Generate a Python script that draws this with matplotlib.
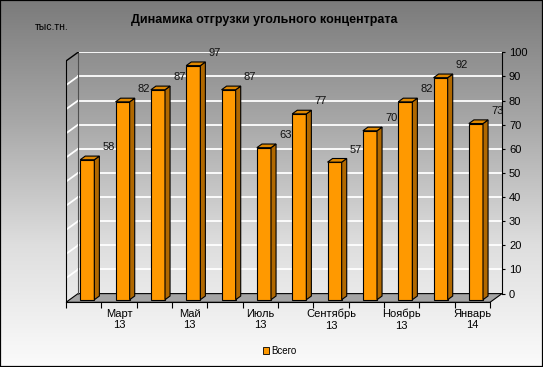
import numpy as np
import matplotlib
matplotlib.use("Agg")
import matplotlib.pyplot as plt
from matplotlib.patches import Polygon, Patch, Rectangle
from matplotlib.colors import LinearSegmentedColormap

# --- data ---
months = ['Февраль', 'Март', 'Апрель', 'Май', 'Июнь', 'Июль',
          'Август', 'Сентябрь', 'Октябрь', 'Ноябрь', 'Декабрь', 'Январь']
years = ['13'] * 11 + ['14']
values = [58, 82, 87, 97, 87, 63, 77, 57, 70, 82, 92, 73]
labelled = [1, 3, 5, 7, 9, 11]          # only every other month gets a tick label
y_ticks = list(range(0, 101, 10))

plt.rcParams['font.family'] = ['Liberation Sans', 'DejaVu Sans']

W_PX, H_PX = 543, 367
n = len(values)

# pseudo-3D geometry (depth offset expressed in data units)
DX = 0.34      # category units for full depth
DY = 3.6       # value units for full depth
F = 0.3        # depth of bar front face
SD = 0.42      # bar depth
BW = 0.40      # bar width
PX_CAT = 424 / 12
PX_VAL = 2.413

fig = plt.figure(figsize=(W_PX / 100, H_PX / 100), dpi=100)

# gradient background
bg = fig.add_axes([0, 0, 1, 1], zorder=-5)
cmap = LinearSegmentedColormap.from_list('bg', ['#7b7b7b', '#a8a8a8', '#dedede', '#fbfbfb'])
bg.imshow(np.linspace(0, 1, 256)[:, None], aspect='auto', cmap=cmap,
          extent=[0, 1, 0, 1])
bg.axis('off')

left_px, front_y_px = 66, 302.3
width_px = (n + DX) * PX_CAT
height_px = (100 + DY) * PX_VAL
ax = fig.add_axes([left_px / W_PX, 1 - front_y_px / H_PX,
                   width_px / W_PX, height_px / H_PX])
ax.patch.set_visible(False)
ax.set_xlim(-0.5, n - 0.5 + DX)
ax.set_ylim(0, 100 + DY)

# floor
floor = Polygon([(-0.5, 0), (n - 0.5, 0), (n - 0.5 + DX, DY), (-0.5 + DX, DY)],
                closed=True, fc='#a4a4a4', ec='black', lw=0.8, zorder=1)
ax.add_patch(floor)

# gridlines on back wall and left wall
for v in y_ticks[1:]:
    ax.plot([-0.5 + DX, n - 0.5 + DX], [v + DY, v + DY], color='white', lw=1.3, zorder=1)
    if v < 100:
        ax.plot([-0.5, -0.5 + DX], [v, v + DY], color='white', lw=1.3, zorder=1)
# wall edges
ax.plot([-0.5 + DX, -0.5 + DX], [DY, 100 + DY], color='#505050', lw=0.8, zorder=1)
ax.plot([-0.5, -0.5 + DX], [100, 100 + DY], color='black', lw=1.0, zorder=2)

# bars
for i, v in enumerate(values):
    xc = i + F * DX
    b = F * DY
    x0, x1 = xc - BW / 2, xc + BW / 2
    t = b + v
    ax.bar(xc, v, width=BW, bottom=b, color='#ff9900', edgecolor='black',
           lw=0.8, zorder=3 + i)
    side = Polygon([(x1, b), (x1, t), (x1 + SD * DX, t + SD * DY), (x1 + SD * DX, b + SD * DY)],
                   closed=True, fc='#b06800', ec='black', lw=0.8, zorder=3 + i)
    top = Polygon([(x0, t), (x1, t), (x1 + SD * DX, t + SD * DY), (x0 + SD * DX, t + SD * DY)],
                  closed=True, fc='#e08800', ec='black', lw=0.8, zorder=3 + i)
    ax.add_patch(side)
    ax.add_patch(top)
    ax.annotate(str(v), xy=(xc, t), xytext=(15.5, 9), textcoords='offset points',
                ha='center', va='center', fontsize=8, color='#111111', zorder=20)

# front axes
for s in ['top', 'right']:
    ax.spines[s].set_visible(False)
ax.spines['bottom'].set_bounds(-0.5, n - 0.5)
ax.spines['left'].set_bounds(0, 100)
ax.set_yticks([])
ax.set_xticks(np.arange(-0.5, n, 1.0))
ax.set_xticklabels([])
ax.tick_params(axis='x', which='major', length=4, width=0.8, direction='out')
ax.set_xticks(np.arange(n), minor=True)
ax.set_xticklabels([f'{months[i]}\n{years[i]}' if i in labelled else '' for i in range(n)],
                   minor=True, fontsize=8, linespacing=1.2)
ax.tick_params(axis='x', which='minor', length=0, pad=4.5)

# value axis on the back right edge
ax2 = ax.twinx()
ax2.set_ylim(-DY, 100)
ax2.set_yticks(y_ticks)
for s in ['top', 'left', 'bottom']:
    ax2.spines[s].set_visible(False)
ax2.spines['right'].set_bounds(0, 100)
ax2.tick_params(axis='y', length=2.5, width=0.8, pad=2.5, labelsize=8)

fig.text(264 / W_PX, 1 - 20.5 / H_PX, 'Динамика отгрузки угольного концентрата',
         ha='center', va='center', fontsize=9, fontweight='bold')
fig.text(35 / W_PX, 1 - 26.5 / H_PX, 'тыс.тн.', ha='left', va='center', fontsize=7.5)

fig.legend(handles=[Patch(fc='#ff9900', ec='black', lw=0.6, label='Всего')],
           loc='center', bbox_to_anchor=(280 / W_PX, 1 - 351 / H_PX),
           frameon=False, fontsize=7, handlelength=0.6, handleheight=0.6,
           handletextpad=0.2, borderpad=0)

fig.patches.append(Rectangle((0, 0), 1, 1, transform=fig.transFigure, fill=False,
                             ec='black', lw=1.6, zorder=10))

fig.savefig('out.png', dpi=100)
